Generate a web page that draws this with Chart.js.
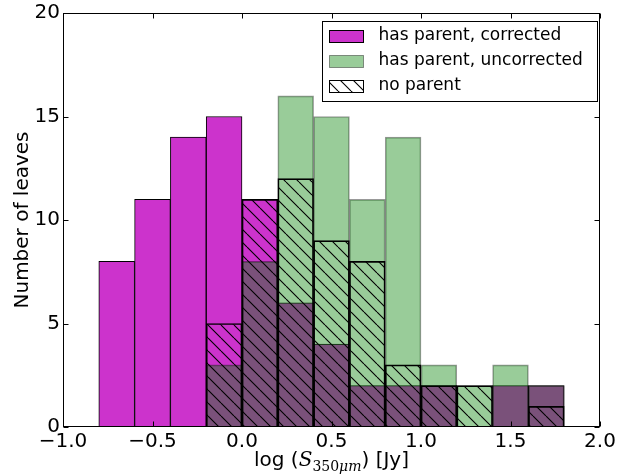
<!DOCTYPE html>
<html>
<head>
<meta charset="utf-8">
<script src="https://cdn.jsdelivr.net/npm/chart.js@4.4.0/dist/chart.umd.min.js"></script>
<style>
  html, body { margin: 0; padding: 0; background: #fff; }
  #wrap { width: 635px; height: 475px; }
</style>
</head>
<body>
<div id="wrap"><canvas id="c" width="635" height="475"></canvas></div>
<script>
// histogram bins: left edges in log(S_350um), all 0.2 wide
const binLeft = [-0.8, -0.6, -0.4, -0.2, 0.0, 0.2, 0.4, 0.6, 0.8, 1.0, 1.2, 1.4, 1.6];
const binWidth = 0.2;

// counts per bin
const corrected   = [8, 11, 14, 15, 11, 6, 4, 2, 2, 2, 0, 2, 2];
const uncorrected = [0, 0, 0, 3, 8, 16, 15, 11, 14, 3, 2, 3, 2];
const noParent    = [0, 0, 0, 5, 11, 12, 9, 8, 3, 2, 2, 0, 1];

const seriesLabels = ['has parent, corrected', 'has parent, uncorrected', 'no parent'];
const xTicks = [-1.0, -0.5, 0.0, 0.5, 1.0, 1.5, 2.0];
const yTicks = [0, 5, 10, 15, 20];

const FONT = 'DejaVu Sans';
const MAGENTA = '#cc33cc';
const GREEN = 'rgba(0,128,0,0.4)';
const GREEN_EDGE = 'rgba(0,0,0,0.4)';

// diagonal hatch "\\" like matplotlib
function makeHatch(size) {
  const c = document.createElement('canvas');
  c.width = size; c.height = size;
  const g = c.getContext('2d');
  g.strokeStyle = '#000';
  g.lineWidth = 1.1;
  g.beginPath();
  for (const o of [-size, 0, size]) {
    g.moveTo(o, 0);
    g.lineTo(o + size, size);
  }
  g.stroke();
  return g.createPattern(c, 'repeat');
}
const hatch = makeHatch(13);

const toPoints = vals => binLeft.map((x, i) => ({ x: x + binWidth / 2, y: vals[i] }));
const fmt = v => v.toFixed(1).replace('-', '\u2212');

// frame, inward ticks, x title and legend drawn on top of the bars
const decor = {
  id: 'decor',
  afterDatasetsDraw(chart) {
    const { ctx, chartArea: a, scales: { x, y } } = chart;
    const L = Math.round(a.left) + 0.5, R = Math.round(a.right) - 0.5;
    const T = Math.round(a.top) + 0.5, B = Math.round(a.bottom) - 0.5;
    ctx.save();
    ctx.strokeStyle = '#000';
    ctx.lineWidth = 1;
    ctx.beginPath();
    xTicks.forEach(v => {
      const px = Math.round(x.getPixelForValue(v)) + 0.5;
      ctx.moveTo(px, B); ctx.lineTo(px, B - 5);
      ctx.moveTo(px, T); ctx.lineTo(px, T + 5);
    });
    yTicks.forEach(v => {
      const py = Math.round(y.getPixelForValue(v)) + 0.5;
      ctx.moveTo(L, py); ctx.lineTo(L + 5, py);
      ctx.moveTo(R, py); ctx.lineTo(R - 5, py);
    });
    ctx.stroke();
    ctx.strokeRect(L, T, R - L, B - T);

    // x axis title: log (S_350μm) [Jy]
    const parts = [
      { t: 'log (', f: `20px ${FONT}`, dy: 0 },
      { t: 'S', f: 'italic 20px DejaVu Serif', dy: 0 },
      { t: '350', f: '14px DejaVu Serif', dy: 5 },
      { t: '\u03bcm', f: 'italic 14px DejaVu Serif', dy: 5 },
      { t: ') [Jy]', f: `20px ${FONT}`, dy: 0 },
    ];
    let w = 0;
    parts.forEach(p => { ctx.font = p.f; p.w = ctx.measureText(p.t).width; w += p.w; });
    let cx = (a.left + a.right) / 2 - w / 2;
    const base = 466;
    ctx.fillStyle = '#000';
    ctx.textBaseline = 'alphabetic';
    ctx.textAlign = 'left';
    parts.forEach(p => { ctx.font = p.f; ctx.fillText(p.t, cx, base + p.dy); cx += p.w; });

    // legend box in the upper right
    const bx = Math.round(a.right) - 278 + 0.5, by = Math.round(a.top) + 8 + 0.5;
    const bw = 275, bh = 80;
    ctx.fillStyle = '#fff';
    ctx.fillRect(bx, by, bw, bh);
    ctx.strokeRect(bx, by, bw, bh);
    const fills = [MAGENTA, GREEN, hatch];
    const edges = ['#000', GREEN_EDGE, '#000'];
    ctx.font = `17px ${FONT}`;
    ctx.textBaseline = 'middle';
    seriesLabels.forEach((lab, i) => {
      const cy = by + 14 + i * 25;
      const sx = bx + 7, sy = Math.round(cy - 6) + 0.5;
      ctx.fillStyle = fills[i];
      ctx.fillRect(sx, sy, 34, 12);
      ctx.strokeStyle = edges[i];
      ctx.strokeRect(sx, sy, 34, 12);
      ctx.fillStyle = '#000';
      ctx.fillText(lab, bx + 56, cy);
    });
    ctx.restore();
  }
};

new Chart(document.getElementById('c'), {
  type: 'bar',
  data: {
    datasets: [
      { label: seriesLabels[0], data: toPoints(corrected), backgroundColor: MAGENTA, borderColor: '#000', borderWidth: 1, order: 3 },
      { label: seriesLabels[1], data: toPoints(uncorrected), backgroundColor: GREEN, borderColor: GREEN_EDGE, borderWidth: 1, order: 2 },
      { label: seriesLabels[2], data: toPoints(noParent), backgroundColor: hatch, borderColor: '#000', borderWidth: 1, order: 1 },
    ],
  },
  options: {
    responsive: false,
    devicePixelRatio: 1,
    animation: false,
    events: [],
    grouped: false,
    barPercentage: 1,
    categoryPercentage: 1,
    layout: { padding: { left: 0, right: 35, top: 13, bottom: 0 } },
    plugins: { legend: { display: false }, tooltip: { enabled: false } },
    scales: {
      x: {
        type: 'linear',
        min: -1, max: 2,
        offset: false,
        grid: { display: false, drawTicks: false },
        border: { display: false },
        afterBuildTicks: s => { s.ticks = xTicks.map(v => ({ value: v })); },
        afterFit: s => { s.height = 48; },
        ticks: { color: '#000', font: { family: FONT, size: 20 }, padding: 3, maxRotation: 0, callback: v => fmt(v) },
      },
      y: {
        min: 0, max: 20,
        grid: { display: false, drawTicks: false },
        border: { display: false },
        afterBuildTicks: s => { s.ticks = yTicks.map(v => ({ value: v })); },
        afterFit: s => { s.width = 63; },
        ticks: { color: '#000', font: { family: FONT, size: 20, lineHeight: 1 }, padding: 3 },
        title: { display: true, text: 'Number of leaves', color: '#000', font: { family: FONT, size: 20 }, padding: { top: 11, bottom: 0 } },
      },
    },
  },
  plugins: [decor],
});
</script>
</body>
</html>
